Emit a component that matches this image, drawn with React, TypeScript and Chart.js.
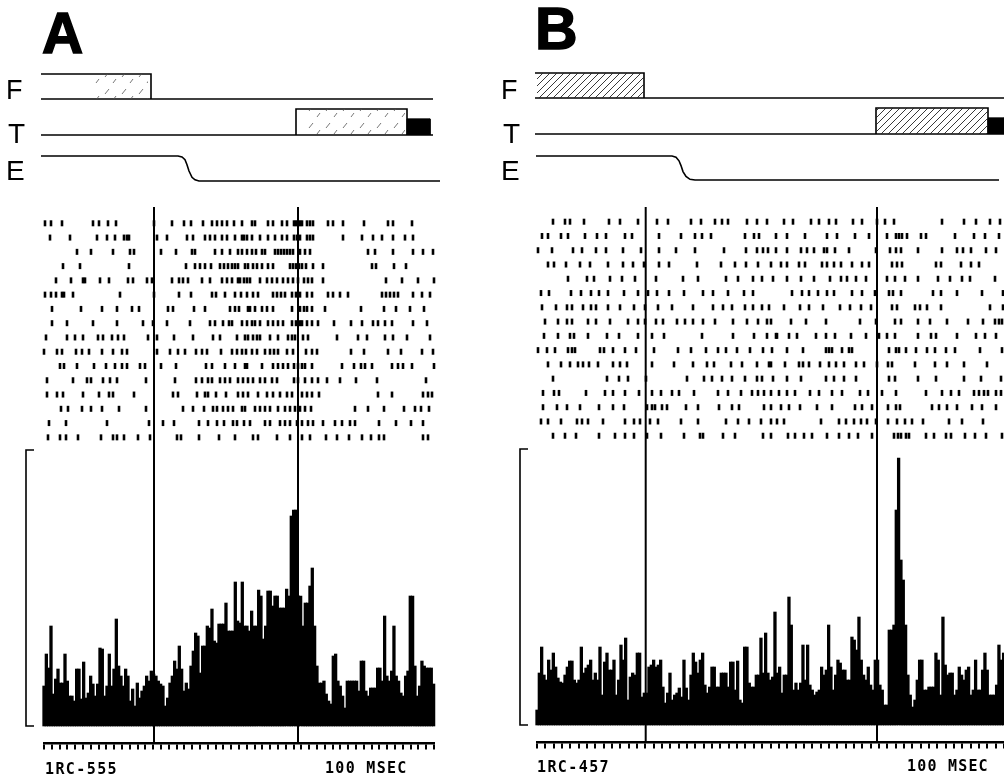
import React, { useEffect, useRef } from "react";
import Chart from "chart.js/auto";

// ---- Panel A ----
const rasterA: number[][] = [
  [45,51,62,93,99,108,116,154,172,184,191,203,212,217,222,227,234,242,252,255,268,273,282,287,294,296,298,300,302,307,310,313,328,333,343,364,388,393,412],
  [50,70,97,107,115,124,127,129,157,167,187,193,205,210,215,222,227,235,242,244,247,252,260,268,275,282,287,294,297,300,307,310,313,343,362,373,382,393,405,413],
  [77,91,113,130,134,161,176,192,195,215,222,230,238,242,247,252,256,262,265,275,278,281,284,287,290,293,300,305,310,368,375,393,413,423,433],
  [63,80,129,186,195,200,205,211,220,224,228,232,235,238,245,248,253,257,262,268,273,290,293,296,299,302,306,313,323,372,376,394,406],
  [56,71,83,85,100,109,128,133,147,152,172,179,183,188,202,210,222,227,232,238,240,244,247,250,260,267,272,277,283,288,293,298,304,308,312,323,386,402,418,434],
  [45,51,56,62,64,73,120,154,179,191,212,216,225,235,241,247,253,258,273,277,281,285,292,296,300,307,312,328,333,340,348,382,386,390,394,398,413,422,430],
  [52,81,102,117,132,139,168,173,194,205,230,235,239,248,250,255,262,267,273,292,300,304,307,312,325,361,384,396,410,424],
  [52,67,93,117,143,153,167,190,210,215,223,229,232,242,247,252,255,260,268,273,278,283,292,296,300,302,307,312,318,334,351,362,373,378,385,392,413,427],
  [46,67,75,83,98,103,112,118,124,148,157,174,193,213,220,237,245,248,253,257,260,270,278,288,292,295,303,308,337,358,367,385,393,407,430],
  [44,57,62,76,82,89,102,113,122,127,157,170,178,185,196,202,207,221,232,237,242,246,252,257,265,270,274,278,287,293,306,312,317,351,364,388,401,422,433],
  [60,64,77,94,106,115,122,127,140,145,161,176,206,212,225,235,245,247,262,273,278,283,288,294,298,302,305,312,342,354,361,365,372,392,398,403,412,434],
  [47,73,87,91,103,110,117,146,175,196,202,208,212,220,225,230,238,243,248,253,260,265,272,277,294,298,305,312,318,327,340,356,377,426],
  [47,57,63,83,99,109,113,134,173,178,197,205,208,216,226,238,243,248,258,267,273,280,287,292,302,307,312,319,378,392,423,428,432],
  [61,68,82,91,102,119,146,183,193,204,213,217,223,228,233,242,245,255,260,265,270,278,285,290,295,300,305,311,355,368,384,404,415,421,429],
  [49,66,107,149,163,174,199,208,217,224,233,237,244,250,265,270,280,285,290,297,302,308,313,323,335,342,350,355,379,396,411,423],
  [48,60,66,78,101,113,117,124,138,150,177,181,199,219,235,253,258,277,290,302,310,326,337,349,362,371,379,384,423,428],
];
const histA: number[] = [
  40,72,58,100,32,47,57,43,43,72,45,30,30,25,57,57,27,64,28,33,50,42,30,42,78,77,30,40,72,40,57,107,60,50,40,57,50,25,37,20,
  43,28,35,40,50,45,55,52,50,45,42,40,20,28,43,50,65,57,80,57,35,43,37,60,75,93,90,53,80,80,100,98,117,85,83,102,102,102,123,95,
  95,95,144,105,103,144,100,100,95,115,100,100,136,130,87,100,135,135,120,130,130,118,118,118,137,130,210,216,216,130,130,100,123,123,140,158,100,60,43,43,
  45,32,25,22,70,72,45,40,30,18,45,45,45,45,45,35,65,65,35,30,38,38,38,58,58,45,110,50,45,55,100,50,45,33,30,50,55,130,130,60,
  30,40,65,60,58,58,58,42,
];
const ftXA = [41, 151, 151];
const ftLevelA = [1, 1, 0];
const baseXA = [41, 433];
const tXA = [296, 296, 407, 407];
const tLevelA = [0, 1, 1, 0];
const tEndXA = [407, 407, 430, 430];
const tEndLevel = [0, 0.62, 0.62, 0];
const eXA = [41, 178, 182, 185, 187, 189, 192, 195, 199, 440];
const eLevelA = [1, 1, 0.96, 0.85, 0.65, 0.4, 0.15, 0.05, 0, 0];
const eventsA = [154, 298];
const hatchFXA = [95, 148];
const hatchTXA = [305, 405];

// ---- Panel B ----
const rasterB: number[][] = [
  [553,565,570,584,609,620,638,657,668,691,701,715,722,728,747,757,767,784,793,811,819,829,836,853,862,877,885,894,942,964,976,990,1000],
  [542,548,561,568,585,597,606,625,632,659,681,695,702,711,745,754,759,776,787,805,827,837,855,869,887,896,899,902,907,921,926,955,974,985,999],
  [538,552,573,582,596,606,623,641,659,676,695,724,746,757,763,768,776,787,801,807,814,824,827,835,849,876,890,896,901,918,942,957,963,971,986,996],
  [548,554,566,580,590,608,623,633,644,659,669,697,721,735,746,758,771,781,787,799,805,822,827,834,841,852,862,869,892,897,902,936,941,961,971,979],
  [568,587,594,610,622,635,656,683,698,726,738,753,762,773,787,801,814,830,841,847,856,866,887,895,905,918,938,950,962,970,995],
  [541,549,571,581,591,599,608,624,638,648,657,669,684,703,713,728,744,753,792,802,809,818,827,834,852,862,875,889,893,901,933,941,957,982,1003],
  [542,556,567,572,583,591,596,608,620,634,645,658,672,693,713,723,732,745,753,762,769,784,800,809,823,840,850,861,871,892,897,915,920,927,941,990,1003],
  [545,558,567,572,588,596,610,628,638,645,656,663,677,685,693,703,715,733,747,758,767,771,791,806,826,860,876,895,901,918,930,947,968,983,995,999,1002],
  [544,558,570,574,588,607,619,638,652,664,702,733,754,767,776,777,789,797,816,826,835,851,866,879,887,895,918,931,936,957,976,985,996],
  [538,547,555,568,572,575,600,604,613,625,636,654,678,691,706,718,726,737,750,763,772,787,803,826,829,832,842,849,852,889,896,899,906,916,927,935,946,955,980,1002],
  [548,561,570,578,583,589,598,613,620,627,652,674,693,707,714,731,742,757,769,771,785,799,803,809,820,829,836,844,856,864,877,888,892,915,935,947,964,987],
  [553,607,619,628,646,687,704,712,722,732,745,757,762,773,787,801,826,834,844,856,889,895,918,936,964,981,1001],
  [543,554,559,586,605,613,625,639,652,661,672,679,694,718,728,741,752,758,764,771,779,787,795,810,819,832,842,860,868,882,896,926,942,951,959,974,979,984,988,996,1001],
  [543,557,567,580,599,613,624,647,652,655,662,667,686,698,719,732,739,764,771,781,789,800,817,832,855,862,872,888,896,900,932,939,947,957,972,982,996],
  [541,548,561,577,582,588,603,625,634,640,650,658,681,698,726,738,749,761,771,777,784,821,839,846,854,861,867,876,888,897,905,912,923,949,962,983],
  [553,565,576,599,615,625,634,647,661,684,700,703,723,735,763,771,788,795,804,812,827,839,849,858,872,894,898,901,906,909,926,934,946,951,965,975,986,1002],
];
const histB: number[] = [
  15,52,78,50,45,65,55,72,58,47,43,42,50,58,64,64,45,42,45,78,52,57,60,65,45,52,45,78,30,63,72,55,55,65,30,45,80,65,87,25,
  48,52,50,72,72,28,32,32,58,60,65,58,60,65,38,22,32,52,25,30,32,37,28,65,37,25,50,72,63,52,65,72,40,32,38,58,58,38,38,52,
  52,52,38,63,63,35,64,25,22,78,78,42,38,38,50,50,87,52,92,52,45,48,113,52,58,32,50,50,128,100,35,42,35,42,80,45,80,40,35,30,
  33,35,58,50,55,100,58,35,50,65,62,55,55,45,45,88,85,75,108,65,50,45,58,40,35,65,65,40,35,20,20,95,95,100,215,267,165,145,100,50,
  30,18,25,45,65,65,35,35,38,38,38,72,65,30,108,60,50,52,52,30,35,58,50,45,55,58,30,35,65,35,35,55,72,55,30,30,30,40,80,65,
  72,50,
];
const ftXB = [535, 644, 644];
const ftLevelB = [1, 1, 0];
const baseXB = [535, 1004];
const tXB = [876, 876, 988, 988];
const tLevelB = [0, 1, 1, 0];
const tEndXB = [988, 988, 1004, 1004];
const eXB = [536, 672, 676, 679, 681, 683, 686, 690, 695, 999];
const eLevelB = [1, 1, 0.95, 0.8, 0.6, 0.35, 0.15, 0.03, 0, 0];
const eventsB = [645.7, 877];
const hatchFXB = [535, 644];
const hatchTXB = [876, 988];

type PanelCfg = {
  raster: number[][]; hist: number[]; events: number[];
  ftX: number[]; ftLevel: number[]; baseX: number[];
  tX: number[]; tLevel: number[]; tEndX: number[];
  eX: number[]; eLevel: number[];
  hatchF: number[]; hatchT: number[];
  xMin: number; xMax: number; step: number; binStart: number; binStep: number;
  histBase: number; rasterTop: number; fBase: number; tBase: number; eHigh: number; eLow: number;
  bracketX: number; rulerAt: number; eventBottom: number; dense: boolean;
};

function hatch(dense: boolean): CanvasPattern | string {
  const c = document.createElement("canvas");
  const s = dense ? 7 : 17;
  c.width = s; c.height = s;
  const g = c.getContext("2d");
  if (!g) return "#fff";
  g.strokeStyle = dense ? "#222" : "#555";
  g.lineWidth = dense ? 0.9 : 0.8;
  g.beginPath();
  if (dense) {
    g.moveTo(0, s); g.lineTo(s, 0);
    g.moveTo(-1, 1); g.lineTo(1, -1);
    g.moveTo(s - 1, s + 1); g.lineTo(s + 1, s - 1);
  } else {
    g.moveTo(3, 9); g.lineTo(7, 4);
    g.moveTo(11, 15); g.lineTo(14, 11);
  }
  g.stroke();
  return g.createPattern(c, "repeat") ?? "#fff";
}

const zip = (xs: number[], ys: number[]) => xs.map((x, i) => ({ x, y: ys[i] }));
const levelScale = (basePx: number, unitPx: number) => ({
  type: "linear" as const, display: false,
  min: -(778 - basePx) / unitPx, max: basePx / unitPx,
});

function Panel({ cfg }: { cfg: PanelCfg }) {
  const ref = useRef<HTMLCanvasElement>(null);
  useEffect(() => {
    const line = (data: any[], yAxisID: string, width = 1.6, extra: any = {}) => ({
      type: "line", data, yAxisID, xAxisID: "x", borderColor: "#000", borderWidth: width,
      pointRadius: 0, clip: false, tension: 0, fill: false, ...extra,
    });
    const pattern = hatch(cfg.dense);
    const boxFill = { backgroundColor: pattern, fill: "origin", borderWidth: 0, borderColor: "transparent" };
    const datasets: any[] = [
      {
        type: "bar", yAxisID: "yHist", xAxisID: "x", backgroundColor: "#000", borderWidth: 0,
        barThickness: cfg.binStep + 0.3, grouped: false, clip: false,
        data: cfg.hist.map((y, i) => ({ x: cfg.binStart + i * cfg.binStep, y })),
      },
      {
        type: "scatter", yAxisID: "yRaster", xAxisID: "x", showLine: false, clip: false,
        pointStyle: "line", pointRotation: 90, pointRadius: 3, pointBorderWidth: 2.6, pointBorderColor: "#000",
        data: cfg.raster.flatMap((row, i) => row.map((x) => ({ x, y: i }))),
      },
      ...cfg.events.map((x) => line([{ x, y: cfg.eventBottom }, { x, y: cfg.histBase - 207 }], "yHist", 2)),
      line(zip(cfg.hatchF, [1, 1]), "yF", 0, boxFill),
      line(zip(cfg.hatchT, [1, 1]), "yT", 0, boxFill),
      line(zip(cfg.ftX, cfg.ftLevel), "yF"),
      line(zip(cfg.baseX, [0, 0]), "yF"),
      line(zip(cfg.baseX, [0, 0]), "yT"),
      line(zip(cfg.tX, cfg.tLevel), "yT"),
      line(zip(cfg.tEndX, tEndLevel), "yT", 1, { backgroundColor: "#000", fill: "origin" }),
      line(zip(cfg.eX, cfg.eLevel), "yE"),
      line([{ x: cfg.bracketX + 8, y: 276 }, { x: cfg.bracketX, y: 276 }, { x: cfg.bracketX, y: 0 }, { x: cfg.bracketX + 8, y: 0 }], "yHist"),
    ];
    const chart = new Chart(ref.current as HTMLCanvasElement, {
      type: "scatter",
      data: { datasets },
      options: {
        animation: false, responsive: false, events: [],
        layout: { autoPadding: false, padding: { left: cfg.xMin, right: 1004 - cfg.xMax, top: 0, bottom: 0 } },
        plugins: { legend: { display: false }, tooltip: { enabled: false }, title: { display: false } },
        scales: {
          x: {
            type: "linear", min: cfg.xMin, max: cfg.xMax, offset: false,
            position: { yHist: cfg.rulerAt },
            border: { display: true, color: "#000", width: 2.4 },
            grid: { drawOnChartArea: false, drawTicks: true, tickLength: 5, color: "#000", lineWidth: 2, offset: false },
            ticks: { display: false, stepSize: cfg.step, autoSkip: false },
          },
          yHist: { type: "linear", display: false, min: -(778 - cfg.histBase), max: cfg.histBase },
          yRaster: { type: "linear", display: false, reverse: true, min: -cfg.rasterTop / 14.27, max: (778 - cfg.rasterTop) / 14.27 },
          yF: levelScale(cfg.fBase, 25),
          yT: levelScale(cfg.tBase, 26),
          yE: levelScale(cfg.eLow, cfg.eLow - cfg.eHigh),
        },
      } as any,
    } as any);
    return () => chart.destroy();
  }, [cfg]);
  return <canvas ref={ref} width={1004} height={778} style={{ position: "absolute", left: 0, top: 0, width: 1004, height: 778 }} />;
}

const cfgA: PanelCfg = {
  raster: rasterA, hist: histA, events: eventsA, ftX: ftXA, ftLevel: ftLevelA, baseX: baseXA,
  tX: tXA, tLevel: tLevelA, tEndX: tEndXA, eX: eXA, eLevel: eLevelA, hatchF: hatchFXA, hatchT: hatchTXA,
  xMin: 44, xMax: 434, step: 7.8, binStart: 44, binStep: 2.333,
  histBase: 726, rasterTop: 223.3, fBase: 99, tBase: 135, eHigh: 156, eLow: 181,
  bracketX: 26, rulerAt: -17, eventBottom: -17, dense: false,
};
const cfgB: PanelCfg = {
  raster: rasterB, hist: histB, events: eventsB, ftX: ftXB, ftLevel: ftLevelB, baseX: baseXB,
  tX: tXB, tLevel: tLevelB, tEndX: tEndXB, eX: eXB, eLevel: eLevelB, hatchF: hatchFXB, hatchT: hatchTXB,
  xMin: 537, xMax: 1004, step: 467 / 56, binStart: 537, binStep: 2.333,
  histBase: 725, rasterTop: 221.7, fBase: 98, tBase: 134, eHigh: 156, eLow: 180,
  bracketX: 520, rulerAt: -17, eventBottom: -16, dense: true,
};

const sans = '"Liberation Sans", Arial, sans-serif';
const mono = '"DejaVu Sans Mono", monospace';
type Lab = [string, number, number, number, string, number, number, number];
const labels: Lab[] = [
  ["A", 42, 5, 57, sans, 700, 0, 1.5],
  ["B", 535, 0, 59, sans, 700, 0, 1.5],
  ["F", 6, 77, 27, sans, 400, 0, 0],
  ["T", 8, 120, 28, sans, 400, 0, 0],
  ["E", 6, 157, 28, sans, 400, 0, 0],
  ["F", 501, 77, 27, sans, 400, 0, 0],
  ["T", 503, 120, 28, sans, 400, 0, 0],
  ["E", 501, 157, 28, sans, 400, 0, 0],
  ["1RC-555", 45, 762, 15, mono, 700, 1.4, 0],
  ["100 MSEC", 325, 761, 15, mono, 700, 1.3, 0],
  ["1RC-457", 537, 760, 15, mono, 700, 1.4, 0],
  ["100 MSEC", 907, 759, 15, mono, 700, 1.2, 0],
];

export default function App() {
  return (
    <div style={{ position: "absolute", left: 0, top: 0, width: 1004, height: 778, overflow: "hidden", background: "#fff" }}>
      <Panel cfg={cfgA} />
      <Panel cfg={cfgB} />
      {labels.map(([t, x, y, size, font, weight, ls, stroke], i) => (
        <span key={i} style={{ position: "absolute", left: x, top: y, fontSize: size, fontFamily: font, fontWeight: weight, letterSpacing: ls, lineHeight: 1, whiteSpace: "pre", color: "#000", WebkitTextStroke: stroke ? `${stroke}px #000` : undefined }}>{t}</span>
      ))}
    </div>
  );
}
